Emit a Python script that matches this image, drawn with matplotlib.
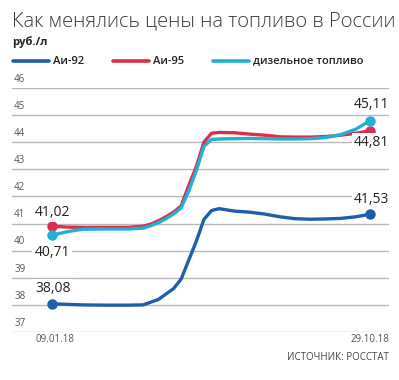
import matplotlib
matplotlib.use("Agg")
import matplotlib.pyplot as plt
import pandas as pd

plt.rcParams['font.family'] = ['Open Sans', 'DejaVu Sans']

# даты наблюдений
dates = ['2018-01-09', '2018-01-23', '2018-02-06', '2018-02-27', '2018-03-20',
         '2018-04-03', '2018-04-10', '2018-04-17', '2018-04-24', '2018-05-01',
         '2018-05-08', '2018-05-15', '2018-05-22', '2018-05-29', '2018-06-05',
         '2018-06-12', '2018-06-26', '2018-07-10', '2018-07-24', '2018-08-07',
         '2018-08-21', '2018-09-04', '2018-09-18', '2018-10-02', '2018-10-16',
         '2018-10-23', '2018-10-29']

ai92 = [38.04, 38.02, 38.00, 37.99, 37.99, 38.00, 38.10, 38.20, 38.40, 38.60,
        38.95, 39.65, 40.35, 41.15, 41.48, 41.55, 41.46, 41.42, 41.35, 41.25,
        41.18, 41.16, 41.17, 41.19, 41.25, 41.30, 41.35]
ai95 = [40.90, 40.87, 40.86, 40.86, 40.86, 40.90, 40.98, 41.10, 41.25, 41.42,
        41.65, 42.40, 43.10, 44.00, 44.33, 44.36, 44.35, 44.30, 44.26, 44.20,
        44.19, 44.19, 44.21, 44.26, 44.33, 44.38, 44.43]
diesel = [40.57, 40.70, 40.79, 40.80, 40.80, 40.83, 40.92, 41.03, 41.18, 41.35,
          41.58, 42.20, 42.95, 43.85, 44.10, 44.12, 44.13, 44.14, 44.13, 44.12,
          44.12, 44.13, 44.17, 44.28, 44.48, 44.65, 44.78]

names = ['Аи-92', 'Аи-95', 'дизельное топливо']
start_labels = ['38,08', '41,02', '40,71']
end_labels = ['41,53', '44,81', '45,11']
yticks = [37, 38, 39, 40, 41, 42, 43, 44, 45, 46]

colors = ['#1e5eaa', '#dc2d4d', '#1fb1d3']

d = pd.to_datetime(dates)
days = [(x - d[0]).days for x in d]

fig = plt.figure(figsize=(3.99, 3.80), dpi=100)
ax = fig.add_axes([0.030, 0.1263, 0.945, 0.6421])

# сетка
for v in yticks:
    ax.axhline(v, color='#b9b9b9', lw=1.0, zorder=0)
    ax.text(-35, v + 0.12, str(v), fontsize=7, color='#555555', va='bottom', ha='left')

series = [ai92, ai95, diesel]
for s, c in zip(series, colors):
    ax.plot(days, s, color=c, lw=2.4, solid_capstyle='round', zorder=3)
    ax.plot([days[0], days[-1]], [s[0], s[-1]], 'o', color=c, ms=6.5, zorder=4)

# подписи значений
start_off = [(1, 15), (0, 13.5), (0, -17)]
end_off = [(2, 15), (2, -12), (2, 16.5)]
for i, s in enumerate(series):
    ax.annotate(start_labels[i], (days[0], s[0]), xytext=start_off[i],
                textcoords='offset pixels', ha='center', va='center',
                fontsize=10, color='#222222', zorder=5,
                bbox=dict(boxstyle='square,pad=0.15', fc='white', ec='none'))
    ax.annotate(end_labels[i], (days[-1], s[-1]), xytext=end_off[i],
                textcoords='offset pixels', ha='center', va='center',
                fontsize=10, color='#222222', zorder=5,
                bbox=dict(boxstyle='square,pad=0.15', fc='white', ec='none'))

ax.set_xlim(-36.9, 310.6)
ax.set_ylim(37, 46)
ax.axis('off')

# заголовок и легенда
fig.text(0.030, 1 - 22 / 380, 'Как менялись цены на топливо в России', fontsize=14.5,
         color='#3a3a3a', va='center', ha='left', fontweight='light')
fig.text(0.030, 1 - 42 / 380, 'руб./л', fontsize=8, color='#222222', va='center',
         ha='left', fontweight='bold')

leg_x = [13, 113, 213]
for lx, c, n in zip(leg_x, colors, names):
    fig.add_artist(plt.Line2D([lx / 399, (lx + 36) / 399], [1 - 61 / 380] * 2,
                              color=c, lw=2.6, solid_capstyle='round',
                              transform=fig.transFigure))
    fig.text((lx + 40) / 399, 1 - 61 / 380, n, fontsize=8, color='#222222',
             va='center', ha='left', fontweight='semibold')

fig.text(36 / 399, 1 - 340 / 380, '09.01.18', fontsize=7, color='#555555',
         va='center', ha='left')
fig.text(389 / 399, 1 - 340 / 380, '29.10.18', fontsize=7, color='#555555',
         va='center', ha='right')
fig.text(389 / 399, 1 - 358 / 380, 'ИСТОЧНИК: РОССТАТ', fontsize=7, color='#444444',
         va='center', ha='right')

fig.savefig('out.png', dpi=100)
